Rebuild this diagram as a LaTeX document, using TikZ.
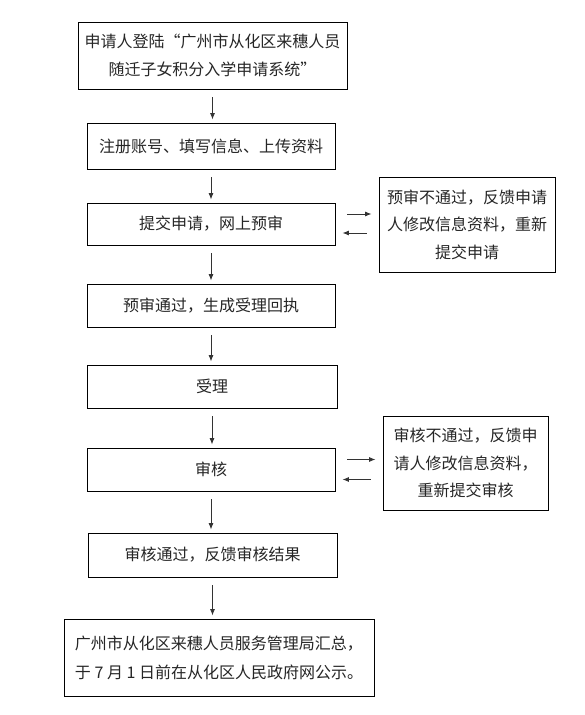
\documentclass[tikz,border=0pt]{standalone}
\usepackage{fontspec}
\setmainfont{Noto Sans CJK SC}
\usetikzlibrary{arrows.meta}
\begin{document}
\begin{tikzpicture}[x=1pt,y=-1pt,
  box/.style={draw=black,line width=0.9pt,inner sep=0pt,align=center,font=\fontsize{16}{28}\selectfont,text=black!85},
  arr/.style={line width=0.8pt,draw=black!80,-{Latex[length=6.5pt,width=5pt]}},
  varr/.style={arr,shorten <=8pt,shorten >=3pt},
  harr/.style={arr,shorten <=12pt,shorten >=7pt}]
\useasboundingbox[fill=white] (0,0) rectangle (584,715);
\node[box,minimum width=269pt,minimum height=67pt] (b1) at (212.5,55.5) {申请人登陆“广州市从化区来穗人员\\随迁子女积分入学申请系统”};
\node[box,minimum width=248pt,minimum height=46pt] (b2) at (211,146) {注册账号、填写信息、上传资料};
\node[box,minimum width=248pt,minimum height=42pt] (b3) at (211,224) {提交申请，网上预审};
\node[box,minimum width=248pt,minimum height=43pt] (b4) at (211,305.5) {预审通过，生成受理回执};
\node[box,minimum width=250pt,minimum height=43pt] (b5) at (212,386.5) {受理};
\node[box,minimum width=248pt,minimum height=43pt] (b6) at (211,469.5) {审核};
\node[box,minimum width=249pt,minimum height=44pt] (b7) at (212.5,555) {审核通过，反馈审核结果};
\node[box,minimum width=310pt,minimum height=77pt,align=left,font=\fontsize{16}{29}\selectfont] (b8) at (219,657.5) {广州市从化区来穗人员服务管理局汇总，\\于 7 月 1 日前在从化区人民政府网公示。};
\node[box,minimum width=176pt,minimum height=95pt,font=\fontsize{16}{27.5}\selectfont] (r1) at (467,224.5) {预审不通过，反馈申请\\人修改信息资料，重新\\提交申请};
\node[box,minimum width=165pt,minimum height=94pt,font=\fontsize{16}{27.5}\selectfont] (r2) at (465.5,463) {审核不通过，反馈申\\请人修改信息资料，\\重新提交审核};
\foreach \a/\b in {b1/b2,b2/b3,b3/b4,b4/b5,b5/b6,b6/b7,b7/b8}
  \draw[varr] (\a.south) -- (\a.south |- \b.north);
\draw[harr] ([yshift=10pt]b3.east) -- ([yshift=10pt]b3.east -| r1.west);
\draw[harr] ([yshift=-9pt]b3.east -| r1.west) -- ([yshift=-9pt]b3.east);
\draw[harr] ([yshift=10pt]b6.east) -- ([yshift=10pt]b6.east -| r2.west);
\draw[harr] ([yshift=-10pt]b6.east -| r2.west) -- ([yshift=-10pt]b6.east);
\end{tikzpicture}
\end{document}
